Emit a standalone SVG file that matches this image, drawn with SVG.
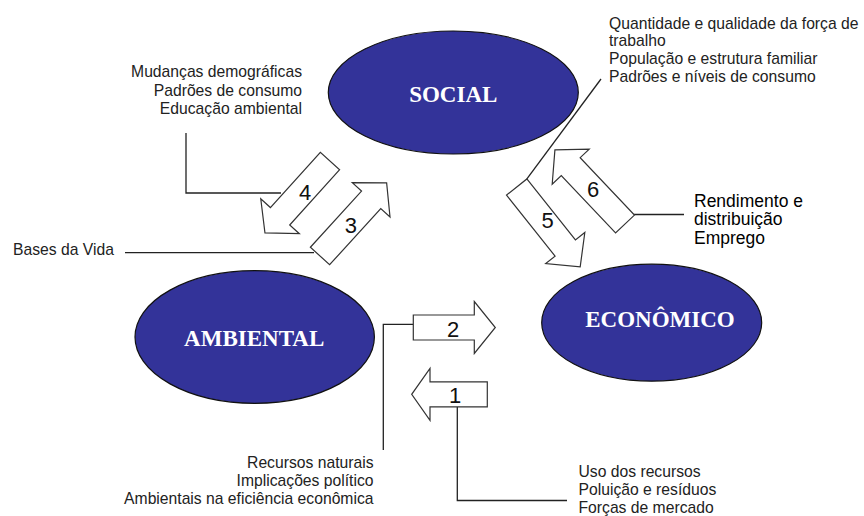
<svg xmlns="http://www.w3.org/2000/svg" width="864" height="516" viewBox="0 0 864 516">
<style>
.node ellipse{fill:#333399;stroke:#111;stroke-width:1.2}
.lbl{font-family:"Liberation Serif","Times New Roman",serif;font-weight:bold;font-size:23px;fill:#fff;text-anchor:middle}
.arr{fill:#fff;stroke:#333;stroke-width:1.2;stroke-linejoin:miter}
.num{font-family:"Liberation Sans",Arial,sans-serif;font-size:22px;fill:#111;text-anchor:middle}
.t{font-family:"Liberation Sans",Arial,sans-serif;font-size:15.7px;fill:#222}
.e{text-anchor:end}
.big{font-size:17.5px;fill:#000}
.conn{fill:none;stroke:#222;stroke-width:1.3}
</style>
<rect width="864" height="516" fill="#fff"/>
<g id="connectors">
<polyline class="conn" points="186,133 186,193 281,193"/>
<line class="conn" x1="125" y1="252.7" x2="314" y2="252.7"/>
<line class="conn" x1="601" y1="79" x2="526.9" y2="178.9"/>
<line class="conn" x1="634" y1="214.5" x2="684" y2="214.5"/>
<polyline class="conn" points="413.3,324.3 383.3,324.3 383.3,450"/>
<polyline class="conn" points="457.3,406.8 457.3,500.5 567,500.5"/>
</g>
<g id="social" class="node">
<ellipse cx="453.3" cy="92.5" rx="125" ry="61.5"/>
<text class="lbl" x="453.3" y="101.7">SOCIAL</text>
</g>
<g id="ambiental" class="node">
<ellipse cx="254.7" cy="337" rx="119.7" ry="66.3"/>
<text class="lbl" x="254.2" y="346">AMBIENTAL</text>
</g>
<g id="economico" class="node">
<ellipse cx="651.7" cy="322.7" rx="110" ry="58.5"/>
<text class="lbl" x="660" y="326.7">ECONÔMICO</text>
</g>
<g id="arrow1">
<path class="arr" transform="translate(487.3,394.3) rotate(180)" d="M0,-12.5 H57.3 V-26 L75.6,0 L57.3,26 V12.5 H0 Z"/>
<text class="num" x="455" y="403.3">1</text>
</g>
<g id="arrow2">
<path class="arr" transform="translate(413.3,327.5)" d="M0,-12.5 H61 V-26 L82,0 L61,26 V12.5 H0 Z"/>
<text class="num" x="453" y="337.3">2</text>
</g>
<g id="arrow3">
<path class="arr" transform="translate(320,256) rotate(-47.7)" d="M0,-13 H76 V-25.5 L99,0 L76,25.5 V13 H0 Z"/>
<text class="num" x="350.8" y="233.3">3</text>
</g>
<g id="arrow4">
<path class="arr" transform="translate(330,161) rotate(132.1)" d="M0,-13 H74.5 V-26 L97,0 L74.5,26 V13 H0 Z"/>
<text class="num" x="305" y="200">4</text>
</g>
<g id="arrow5">
<path class="arr" transform="translate(516.7,187) rotate(51.5)" d="M0,-13 H78 V-25 L102,0 L78,25 V13 H0 Z"/>
<text class="num" x="547.5" y="228.3">5</text>
</g>
<g id="arrow6">
<path class="arr" transform="translate(625,224) rotate(226.6)" d="M0,-13 H79 V-25.5 L102,0 L79,25.5 V13 H0 Z"/>
<text class="num" x="593" y="196.7">6</text>
</g>
<g id="texts">
<text class="t e" x="302" y="77">Mudanças demográficas</text>
<text class="t e" x="302" y="95.5">Padrões de consumo</text>
<text class="t e" x="302" y="114">Educação ambiental</text>
<text class="t" x="609" y="28.5">Quantidade e qualidade da força de</text>
<text class="t" x="609" y="46.2">trabalho</text>
<text class="t" x="609" y="64">População e estrutura familiar</text>
<text class="t" x="609" y="81.7">Padrões e níveis de consumo</text>
<text class="t big" x="694" y="207">Rendimento e</text>
<text class="t big" x="694" y="225.3">distribuição</text>
<text class="t big" x="694" y="243.6">Emprego</text>
<text class="t" x="13" y="255">Bases da Vida</text>
<text class="t e" x="373.5" y="467.5">Recursos naturais</text>
<text class="t e" x="373.5" y="485.5">Implicações político</text>
<text class="t e" x="373.5" y="503.5">Ambientais na eficiência econômica</text>
<text class="t" x="578.5" y="477">Uso dos recursos</text>
<text class="t" x="578.5" y="495">Poluição e resíduos</text>
<text class="t" x="578.5" y="513">Forças de mercado</text>
</g>
</svg>
